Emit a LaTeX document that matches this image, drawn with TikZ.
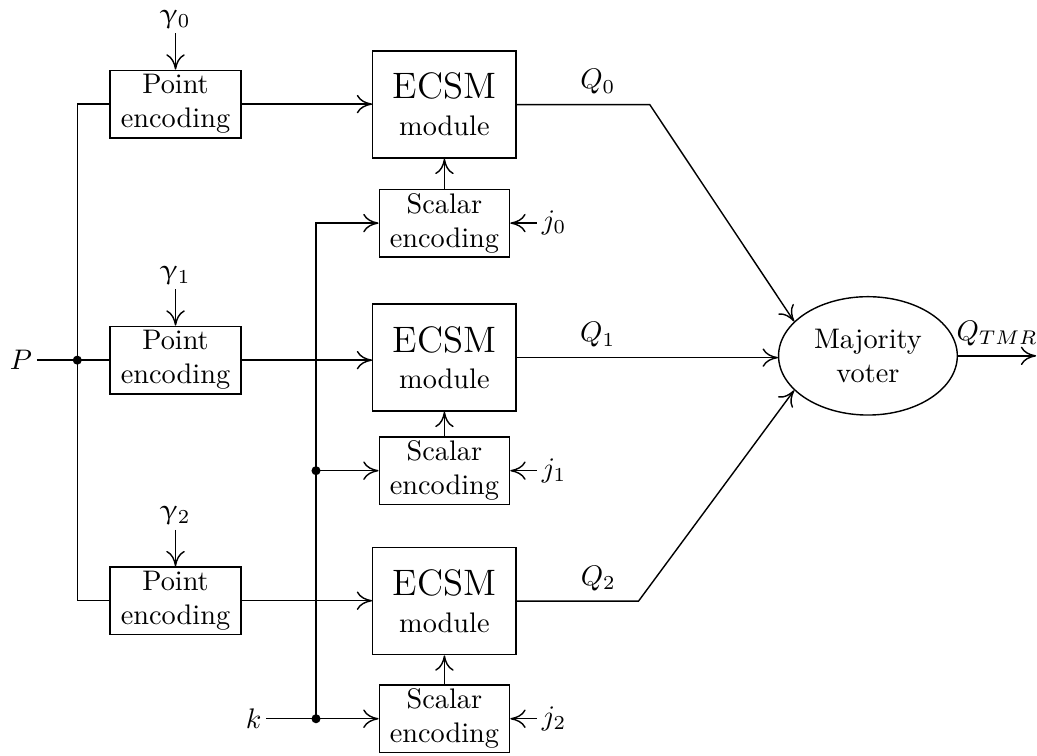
\documentclass[tikz,border=0pt]{standalone}
\usepackage{amsmath, amssymb}
\usepackage[Euler]{upgreek}
\usetikzlibrary{
	arrows.meta,
	calc,
	positioning,
	shapes,
}

\begin{document}
\begin{tikzpicture}[
		line width=0.5pt,
		>={To[length=1.9mm, width=2.3mm]},
		block/.style={draw, align=center, inner sep=1pt},
		encbox/.style={block, minimum width=1.63cm, minimum height=0.84cm},
		ecsmbox/.style={block, minimum width=1.78cm, minimum height=1.33cm},
		lbl/.style={inner sep=1.5pt},
	]
	\useasboundingbox (0,0) rectangle (12.88,9.38);

	\node[encbox] (pe0) at (2.18,8.087) {Point\\encoding};
	\node[encbox] (pe1) at (2.18,4.907) {Point\\encoding};
	\node[encbox] (pe2) at (2.18,1.919) {Point\\encoding};
	\node[lbl, above=0.45cm of pe0] (g0) {$\upgamma_0$};
	\node[lbl, above=0.45cm of pe1] (g1) {$\upgamma_1$};
	\node[lbl, above=0.45cm of pe2] (g2) {$\upgamma_2$};

	\node[ecsmbox] (ecsm0) at (5.52,8.081) {{\fontsize{13}{15}\selectfont ECSM}\\[1pt]module};
	\node[ecsmbox] (ecsm1) at (5.52,4.938) {{\fontsize{13}{15}\selectfont ECSM}\\[1pt]module};
	\node[ecsmbox] (ecsm2) at (5.52,1.913) {{\fontsize{13}{15}\selectfont ECSM}\\[1pt]module};

	\node[encbox, minimum width=1.62cm] (sc0) at (5.52,6.609) {Scalar\\encoding};
	\node[encbox, minimum width=1.62cm] (sc1) at (5.52,3.534) {Scalar\\encoding};
	\node[encbox, minimum width=1.62cm] (sc2) at (5.52,0.453) {Scalar\\encoding};
	\node[lbl, right=0.33cm of sc0] (j0) {$j_0$};
	\node[lbl, right=0.33cm of sc1] (j1) {$j_1$};
	\node[lbl, right=0.33cm of sc2] (j2) {$j_2$};

	\node[ellipse, draw, align=center, inner sep=0pt, minimum width=2.22cm, minimum height=1.47cm] (mv) at (10.78,4.96) {Majority\\voter};

	\node[lbl] (p) at (0.26,4.907) {$P$};
	\node[lbl] (k) at (3.15,0.453) {$k$};
	\coordinate (pj) at (0.96,4.907);
	\coordinate (kj1) at (3.925,3.534);
	\coordinate (kj2) at (3.925,0.453);
	\coordinate (q0) at (8.07,8.081);
	\coordinate (q2) at (7.93,1.913);
	\coordinate (out) at ($(mv.east)+(0.97,0)$);

	\draw[->] (g0) -- (pe0);
	\draw[->] (g1) -- (pe1);
	\draw[->] (g2) -- (pe2);
	\draw (p) -- (pe1);
	\draw (pe0.west) -| (pj) |- (pe2.west);
	\fill (pj) circle (1.6pt);
	\draw[->] (pe0) -- (pe0 -| ecsm0.west);
	\draw[->] (pe1) -- (pe1 -| ecsm1.west);
	\draw[->] (pe2) -- (pe2 -| ecsm2.west);

	\draw[->] (k) -- (sc2);
	\draw[->] (kj2) |- (sc0);
	\draw[->] (kj1) -- (sc1);
	\fill (kj1) circle (1.6pt);
	\fill (kj2) circle (1.6pt);
	\draw[->] (j0) -- (sc0);
	\draw[->] (j1) -- (sc1);
	\draw[->] (j2) -- (sc2);
	\draw[->] (sc0) -- (ecsm0);
	\draw[->] (sc1) -- (ecsm1);
	\draw[->] (sc2) -- (ecsm2);

	\draw[->] (ecsm0.east) -- node[above, pos=0.61]{$Q_0$} (q0) -- (mv.155);
	\draw[->] (ecsm1) -- node[above, pos=0.31]{$Q_1$} (ecsm1 -| mv.west);
	\draw[->] (ecsm2.east) -- node[above, pos=0.67]{$Q_2$} (q2) -- (mv.205);
	\draw[->] (mv) -- node[above]{$Q_{TMR}$} (out);
\end{tikzpicture}
\end{document}
